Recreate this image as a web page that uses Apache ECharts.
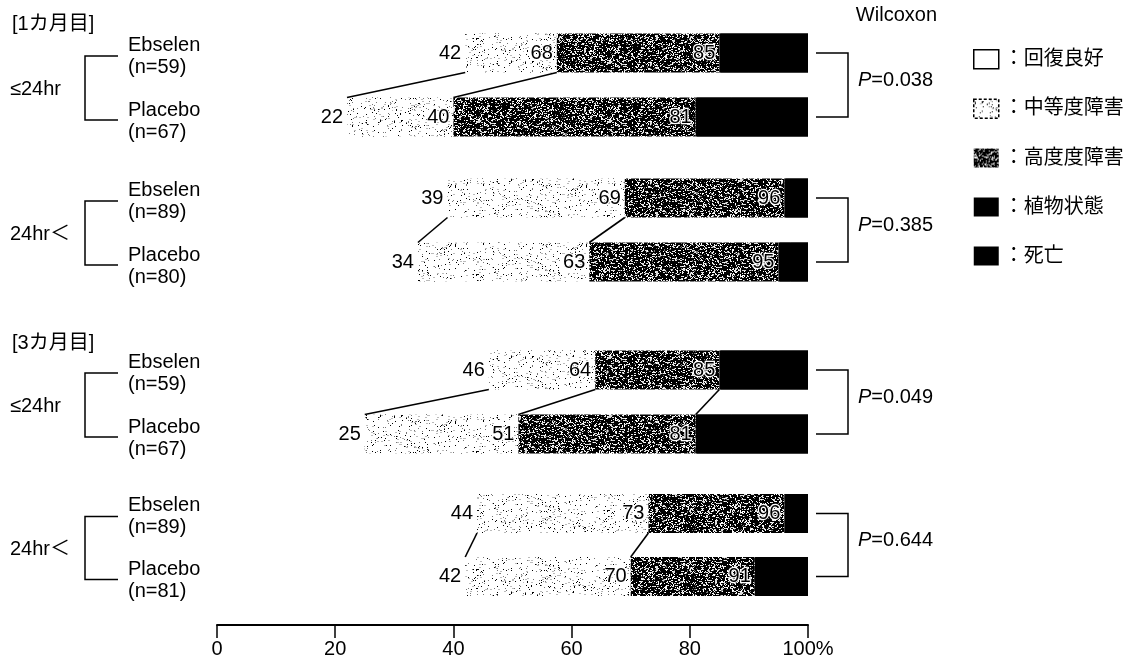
<!DOCTYPE html>
<html><head><meta charset="utf-8">
<script src="https://cdn.jsdelivr.net/npm/echarts@6/dist/echarts.min.js"></script>
<style>html,body{margin:0;padding:0;background:#fff;}#c{width:1140px;height:661px;}</style>
</head><body><div id="c"></div>
<script>
// ---------------- data ----------------
const categories = ['回復良好', '中等度障害', '高度度障害', '植物状態', '死亡'];
const arms = ['Ebselen', 'Placebo'];
const sectionTitles = ['[1カ月目]', '[3カ月目]'];
const onsetLabels = ['≤24hr', '24hr＜', '≤24hr', '24hr＜'];
const nEbselen = [59, 89, 59, 89];
const nPlacebo = [67, 80, 67, 81];
// cumulative % at the end of 回復良好 / 中等度障害 / 高度度障害 / 植物状態 (as drawn)
const ebselen1mEarly = [42, 57.5, 85, 90];
const placebo1mEarly = [22, 40, 81, 87];
const ebselen1mLate = [39, 69, 96, 99];
const placebo1mLate = [34, 63, 95, 97];
const ebselen3mEarly = [46, 64, 85, 89];
const placebo3mEarly = [25, 51, 81, 87];
const ebselen3mLate = [44, 73, 96, 99];
const placebo3mLate = [42, 70, 91, 95];
// printed numbers (the first Ebselen bar is labelled 68 but drawn shorter)
const ebselen1mEarlyPrinted = [42, 68, 85];
const pValues = ['0.038', '0.385', '0.049', '0.644'];
const linkedBoundaries = [[0, 1], [0, 1], [0, 1, 2], [0, 1]];
const xTicks = [0, 20, 40, 60, 80, 100];

// ---------------- layout / style ----------------
const FONT = "'Liberation Sans', 'Noto Sans CJK JP', sans-serif";
const gridTops = [21, 166, 338, 482];
const gridHeights = [128, 128, 128, 126];
const BAR_W = 39;
const GRID_LEFT = 217, GRID_RIGHT = 332;

const blocks = [
  [ebselen1mEarly, placebo1mEarly],
  [ebselen1mLate, placebo1mLate],
  [ebselen3mEarly, placebo3mEarly],
  [ebselen3mLate, placebo3mLate]
];
const printed = [
  [ebselen1mEarlyPrinted, placebo1mEarly],
  [ebselen1mLate, placebo1mLate],
  [ebselen3mEarly, placebo3mEarly],
  [ebselen3mLate, placebo3mLate]
];

function hash(x, y, s) {
  let n = Math.imul(x, 374761393) + Math.imul(y, 668265263) + Math.imul(s, 1442695041);
  n = Math.imul(n ^ (n >>> 13), 1274126177);
  n = n ^ (n >>> 16);
  return ((n >>> 0) % 10000) / 10000;
}
function makePattern(bg, dots, seed) {
  const c = document.createElement('canvas');
  c.width = 131; c.height = 59;
  const ctx = c.getContext('2d');
  ctx.fillStyle = bg; ctx.fillRect(0, 0, c.width, c.height);
  for (let y = 0; y < c.height; y++) {
    for (let x = 0; x < c.width; x++) {
      const r = hash(x, y, seed);
      for (const d of dots) {
        if (r < d.p) { ctx.fillStyle = d.c; ctx.fillRect(x, y, d.w || 1, 1); break; }
      }
    }
  }
  return { image: c, repeat: 'repeat' };
}
const lightFill = makePattern('#ffffff', [{p: 0.03, c: '#000'}, {p: 0.055, c: '#777'}, {p: 0.075, c: '#bbb', w: 2}], 7);
const darkFill = makePattern('#000000', [{p: 0.13, c: '#fff'}, {p: 0.19, c: '#ddd', w: 2}, {p: 0.25, c: '#777'}], 3);
const fills = ['#ffffff', lightFill, darkFill, '#000000', '#000000'];

const chart = echarts.init(document.getElementById('c'), null, {renderer: 'canvas'});

const grids = [], xAxes = [], yAxes = [], series = [];
blocks.forEach((blk, g) => {
  grids.push({left: GRID_LEFT, right: GRID_RIGHT, top: gridTops[g], height: gridHeights[g]});
  const last = g === blocks.length - 1;
  xAxes.push({
    gridIndex: g, type: 'value', min: 0, max: 100, interval: 20, show: last,
    position: 'bottom', offset: 17,
    axisLine: {show: true, lineStyle: {color: '#000', width: 2}},
    axisTick: {show: true, length: 13, lineStyle: {color: '#000', width: 1.5}},
    axisLabel: {color: '#000', fontSize: 20, fontFamily: FONT, margin: 14,
      formatter: v => xTicks.indexOf(v) >= 0 ? (v === 100 ? v + '%' : String(v)) : ''},
    splitLine: {show: false}
  });
  yAxes.push({gridIndex: g, type: 'category', data: arms, inverse: true, show: false});
  // solid black backing behind 植物状態 + 死亡 so that no seam appears between the two black parts
  series.push({
    type: 'custom', xAxisIndex: g, yAxisIndex: g, silent: true, animation: false, z: 1,
    encode: {x: [0, 1], y: 2},
    data: blk.map((row, i) => [row[2], 100, i]),
    renderItem: (params, api) => {
      const a = api.coord([api.value(0), api.value(2)]);
      const b = api.coord([api.value(1), api.value(2)]);
      return {type: 'rect', shape: {x: a[0] + 1, y: a[1] - BAR_W / 2, width: b[0] - a[0] - 1, height: BAR_W},
        style: {fill: '#000'}};
    }
  });
  categories.forEach((cat, k) => {
    const lab = k < 3 ? {
      show: true, position: 'insideRight', distance: 4,
      fontSize: 20, fontFamily: FONT, color: '#000',
      textBorderColor: k === 0 ? 'transparent' : '#fff',
      textBorderWidth: k === 2 ? 2.5 : (k === 1 ? 2 : 0),
      formatter: p => String(printed[g][p.dataIndex][k])
    } : {show: false};
    series.push({
      type: 'bar', name: cat, xAxisIndex: g, yAxisIndex: g, stack: 'stk' + g,
      barWidth: BAR_W, silent: true, animation: false, z: 2,
      itemStyle: {color: fills[k]},
      label: lab,
      data: blk.map(row => { const b = [0].concat(row, [100]); return +(b[k + 1] - b[k]).toFixed(2); })
    });
  });
  series.push({
    type: 'custom', xAxisIndex: g, yAxisIndex: g, silent: true, animation: false, z: 5,
    encode: {x: [0, 1], y: 2},
    data: linkedBoundaries[g].map(i => [blk[0][i], blk[1][i], 0]),
    renderItem: (params, api) => {
      const a = api.coord([api.value(0), 0]);
      const b = api.coord([api.value(1), 1]);
      return {type: 'line', shape: {x1: a[0], y1: a[1] + BAR_W / 2, x2: b[0], y2: b[1] - BAR_W / 2},
        style: {stroke: '#000', lineWidth: 1.6}};
    }
  });
});

chart.setOption({
  animation: false,
  backgroundColor: '#fff',
  textStyle: {fontFamily: FONT},
  grid: grids, xAxis: xAxes, yAxis: yAxes, series: series,
  legend: {
    orient: 'vertical', left: 968, top: 44, itemWidth: 25, itemHeight: 19, itemGap: 29,
    icon: 'rect', selectedMode: false, formatter: '：{name}',
    textStyle: {fontSize: 20, fontFamily: FONT, color: '#000', padding: [0, 0, 0, 0]},
    data: [
      {name: '回復良好', itemStyle: {color: '#fff', borderColor: '#000', borderWidth: 1.5}},
      {name: '中等度障害', itemStyle: {borderColor: '#000', borderWidth: 1.5, borderType: [3, 2]}},
      {name: '高度度障害'}, {name: '植物状態'}, {name: '死亡'}
    ]
  }
});

// ---------------- annotations placed via the axes ----------------
const gfx = [];
const txt = (x, y, text, extra) => gfx.push({type: 'text', x: x, y: y, silent: true,
  style: Object.assign({text: text, fill: '#000', font: '20px ' + FONT, textVerticalAlign: 'middle', textAlign: 'left'}, extra || {})});
const poly = pts => gfx.push({type: 'polyline', silent: true, shape: {points: pts}, style: {stroke: '#000', lineWidth: 1.5, fill: null}});

txt(12, 24, sectionTitles[0]);
txt(12, 343, sectionTitles[1]);
txt(937, 15, 'Wilcoxon', {textAlign: 'right'});

blocks.forEach((blk, g) => {
  const pE = chart.convertToPixel({xAxisIndex: g, yAxisIndex: g}, [100, 0]);
  const pP = chart.convertToPixel({xAxisIndex: g, yAxisIndex: g}, [100, 1]);
  const yE = pE[1], yP = pP[1], mid = (yE + yP) / 2;
  txt(128, yE - 8, arms[0]);
  txt(128, yE + 14, '(n=' + nEbselen[g] + ')');
  txt(128, yP - 7, arms[1]);
  txt(128, yP + 15, '(n=' + nPlacebo[g] + ')');
  poly([[118, yE + 3], [85, yE + 3], [85, yP + 3], [118, yP + 3]]);
  txt(10, mid + 4, onsetLabels[g]);
  const xr = pE[0];
  poly([[xr + 8, yE], [xr + 40, yE], [xr + 40, yP], [xr + 8, yP]]);
  gfx.push({type: 'text', x: xr + 50, y: mid - 5, silent: true,
    style: {text: '{i|P}=' + pValues[g], fill: '#000', font: '20px ' + FONT, textVerticalAlign: 'middle',
      rich: {i: {fontStyle: 'italic', fontSize: 20, fontFamily: FONT, fill: '#000'}}}});
});
chart.setOption({graphic: gfx});
</script></body></html>
